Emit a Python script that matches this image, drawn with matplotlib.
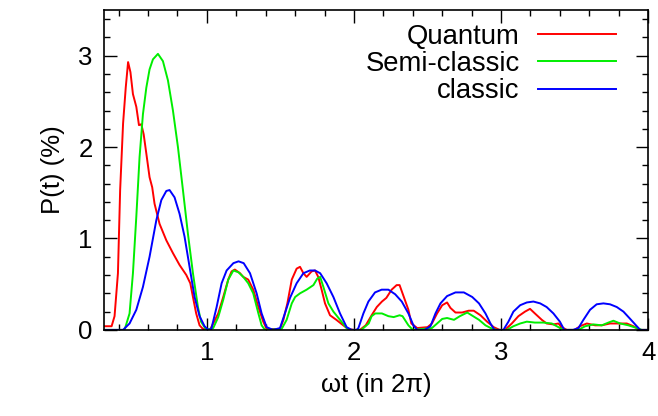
import numpy as np
import matplotlib.pyplot as plt
from matplotlib.ticker import MultipleLocator

plt.rcParams['font.family'] = ['Liberation Sans', 'DejaVu Sans']

# Quantum
t_q = [0.300, 0.330, 0.352, 0.372, 0.395, 0.410, 0.430, 0.448, 0.464, 0.480, 0.497,
       0.520, 0.538, 0.554, 0.570, 0.588, 0.610, 0.628, 0.644, 0.678, 0.724, 0.769,
       0.814, 0.860, 0.887, 0.905, 0.927, 0.950, 0.973, 1.020,
       1.043, 1.077, 1.111, 1.145, 1.168, 1.190, 1.225, 1.247, 1.281, 1.315, 1.350,
       1.383, 1.406, 1.497, 1.520, 1.547, 1.577, 1.610, 1.633, 1.656, 1.678, 1.712,
       1.735, 1.757, 1.780, 1.803, 1.837, 1.880, 1.927, 1.960, 2.000,
       2.040, 2.080, 2.120, 2.155, 2.190, 2.220, 2.256, 2.290, 2.310, 2.330, 2.370,
       2.390, 2.430, 2.500, 2.530, 2.565, 2.600, 2.633, 2.656, 2.690, 2.735, 2.780,
       2.814, 2.860, 2.905, 2.950, 2.990,
       3.027, 3.073, 3.118, 3.163, 3.197, 3.230, 3.277, 3.310, 3.356, 3.390, 3.413,
       3.447, 3.500, 3.537, 3.583, 3.640, 3.685, 3.741, 3.800, 3.855, 3.900, 3.946, 4.000]
p_q = [0.04, 0.04, 0.04, 0.15, 0.62, 1.53, 2.26, 2.65, 2.93, 2.82, 2.58,
       2.44, 2.24, 2.25, 2.14, 1.93, 1.67, 1.56, 1.38, 1.16, 0.98, 0.84,
       0.71, 0.60, 0.51, 0.36, 0.18, 0.05, 0.01, 0.00,
       0.07, 0.18, 0.36, 0.55, 0.64, 0.66, 0.62, 0.58, 0.55, 0.44, 0.25,
       0.09, 0.01, 0.01, 0.11, 0.29, 0.55, 0.67, 0.69, 0.62, 0.58, 0.64,
       0.65, 0.58, 0.44, 0.29, 0.16, 0.11, 0.05, 0.01, 0.00,
       0.00, 0.05, 0.16, 0.25, 0.31, 0.35, 0.44, 0.49, 0.49, 0.40, 0.22,
       0.07, 0.02, 0.03, 0.07, 0.18, 0.27, 0.30, 0.24, 0.19, 0.19, 0.21,
       0.21, 0.16, 0.09, 0.03, 0.00,
       0.00, 0.07, 0.15, 0.20, 0.23, 0.18, 0.11, 0.07, 0.06, 0.07, 0.03,
       0.00, 0.00, 0.04, 0.07, 0.05, 0.05, 0.07, 0.07, 0.07, 0.04, 0.00, 0.00]

# Semi-classic
t_s = [0.300, 0.440, 0.474, 0.497, 0.520, 0.542, 0.565, 0.588, 0.610, 0.633, 0.667,
       0.701, 0.735, 0.769, 0.803, 0.837, 0.871, 0.905, 0.939, 0.960, 0.995,
       1.043, 1.077, 1.111, 1.145, 1.180, 1.215, 1.247, 1.281, 1.315, 1.350, 1.372,
       1.395, 1.508, 1.542, 1.577, 1.600, 1.633, 1.678, 1.724, 1.750, 1.770, 1.792,
       1.826, 1.860, 1.905, 1.950, 1.973,
       2.050, 2.100, 2.120, 2.145, 2.190, 2.234, 2.270, 2.310, 2.330, 2.370, 2.400,
       2.530, 2.565, 2.600, 2.633, 2.680, 2.720, 2.770, 2.800, 2.850, 2.894, 2.930,
       2.970, 3.040, 3.084, 3.130, 3.175, 3.230, 3.288, 3.345, 3.390, 3.424,
       3.526, 3.572, 3.628, 3.685, 3.730, 3.764, 3.810, 3.866, 3.923, 3.957, 4.000]
p_s = [0.00, 0.00, 0.18, 0.62, 1.24, 1.89, 2.36, 2.65, 2.85, 2.96, 3.02,
       2.94, 2.73, 2.40, 2.00, 1.53, 1.05, 0.62, 0.25, 0.09, 0.00,
       0.02, 0.14, 0.33, 0.55, 0.65, 0.63, 0.58, 0.51, 0.40, 0.18, 0.05,
       0.00, 0.01, 0.11, 0.29, 0.36, 0.40, 0.44, 0.49, 0.56, 0.58, 0.47,
       0.29, 0.20, 0.11, 0.02, 0.00,
       0.00, 0.07, 0.15, 0.18, 0.18, 0.15, 0.14, 0.16, 0.15, 0.05, 0.00,
       0.02, 0.07, 0.12, 0.13, 0.11, 0.15, 0.19, 0.16, 0.11, 0.05, 0.02,
       0.00, 0.00, 0.04, 0.07, 0.09, 0.08, 0.08, 0.07, 0.03, 0.00,
       0.00, 0.04, 0.06, 0.05, 0.08, 0.10, 0.07, 0.05, 0.02, 0.00, 0.00]

# classic
t_c = [0.300, 0.430, 0.474, 0.520, 0.565, 0.610, 0.656, 0.690, 0.724, 0.746, 0.780,
       0.814, 0.848, 0.882, 0.916, 0.950, 0.984, 1.010, 1.030,
       1.066, 1.100, 1.134, 1.180, 1.215, 1.250, 1.293, 1.338, 1.372, 1.406, 1.450,
       1.497, 1.530, 1.565, 1.610, 1.656, 1.700, 1.735, 1.770, 1.814, 1.860, 1.905,
       1.950, 1.984, 2.018,
       2.030, 2.064, 2.098, 2.143, 2.188, 2.234, 2.280, 2.325, 2.370, 2.404, 2.430,
       2.480, 2.520, 2.554, 2.588, 2.633, 2.690, 2.747, 2.804, 2.850, 2.894, 2.928,
       2.955, 2.990,
       3.016, 3.050, 3.084, 3.130, 3.175, 3.220, 3.266, 3.310, 3.356, 3.400, 3.430,
       3.490, 3.526, 3.560, 3.605, 3.650, 3.696, 3.741, 3.787, 3.832, 3.878, 3.923,
       3.946, 4.000]
p_c = [0.00, 0.00, 0.07, 0.22, 0.47, 0.80, 1.20, 1.42, 1.52, 1.53, 1.45,
       1.27, 1.02, 0.69, 0.36, 0.15, 0.04, 0.00, 0.01,
       0.25, 0.51, 0.65, 0.73, 0.75, 0.73, 0.62, 0.40, 0.18, 0.03, 0.00,
       0.02, 0.18, 0.35, 0.51, 0.62, 0.65, 0.65, 0.62, 0.51, 0.36, 0.18,
       0.03, 0.00, 0.00,
       0.02, 0.18, 0.31, 0.41, 0.44, 0.44, 0.39, 0.31, 0.18, 0.05, 0.00,
       0.00, 0.04, 0.18, 0.29, 0.37, 0.41, 0.41, 0.36, 0.29, 0.18, 0.07,
       0.00, 0.00,
       0.00, 0.09, 0.20, 0.27, 0.30, 0.31, 0.29, 0.25, 0.18, 0.09, 0.00,
       0.00, 0.02, 0.11, 0.22, 0.28, 0.29, 0.28, 0.25, 0.20, 0.12, 0.04,
       0.00, 0.00]

fig = plt.figure(figsize=(6.58, 4.16), dpi=100)
ax = fig.add_axes([0.158, 0.207, 0.827, 0.769])

ax.plot(t_q, p_q, color='#ff0000', lw=1.4, label='Quantum')
ax.plot(t_s, p_s, color='#00ee00', lw=1.4, label='Semi-classic')
ax.plot(t_c, p_c, color='#0000ff', lw=1.4, label='classic')

ax.set_xlim(0.3, 4)
ax.set_ylim(0, 3.5)
ax.xaxis.set_major_locator(MultipleLocator(1))
ax.xaxis.set_minor_locator(MultipleLocator(0.2))
ax.yaxis.set_major_locator(MultipleLocator(1))
ax.yaxis.set_minor_locator(MultipleLocator(0.2))
ax.tick_params(which='both', direction='in', top=True, right=True, labelsize=18.5, width=1.0)
ax.tick_params(which='major', length=9, pad=8)
ax.tick_params(which='minor', length=4.5)
for s in ax.spines.values():
    s.set_linewidth(1.2)

ax.set_xlabel('ωt (in 2π)', fontsize=18.5, labelpad=6)
ax.set_ylabel('P(t) (%)', fontsize=18.5, labelpad=10)

leg = ax.legend(loc='upper right', bbox_to_anchor=(0.961, 0.992), frameon=False, markerfirst=False,
                fontsize=19.8, handlelength=2.85, handletextpad=0.65, labelspacing=0.05,
                borderaxespad=0.0)
for txt in leg.get_texts():
    txt.set_ha('right')

fig.savefig('out.png', dpi=100)
